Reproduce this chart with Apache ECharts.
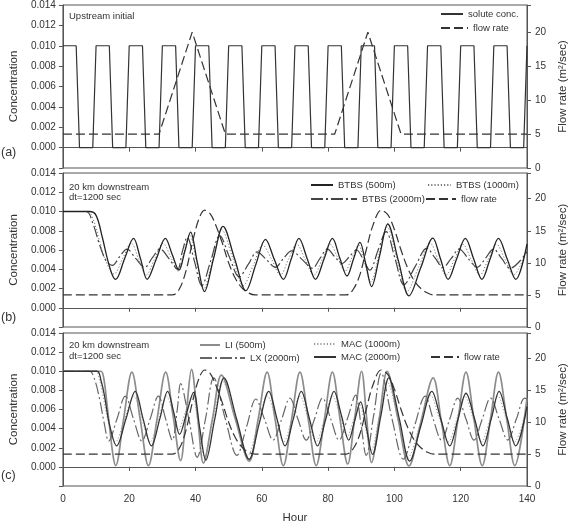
<!DOCTYPE html>
<html>
<head>
<meta charset="utf-8">
<script src="https://cdn.jsdelivr.net/npm/echarts@6/dist/echarts.min.js"></script>
<style>
  html, body { margin: 0; padding: 0; background: #fff; }
  #chart { width: 577px; height: 525px; }
</style>
</head>
<body>
<div id="chart"></div>
<script>
// ---- data: [hour, value] ----
const hourTicks = [0, 20, 40, 60, 80, 100, 120, 140];

// (a) upstream boundary
const upstreamConc = [
  [0, 0.010], [4, 0.010], [5, 0], [9, 0], [10, 0.010], [14, 0.010], [15, 0], [19, 0],
  [20, 0.010], [24, 0.010], [25, 0], [29, 0], [30, 0.010], [34, 0.010], [35, 0], [39, 0],
  [40, 0.010], [44, 0.010], [45, 0], [49, 0], [50, 0.010], [54, 0.010], [55, 0], [59, 0],
  [60, 0.010], [64, 0.010], [65, 0], [69, 0], [70, 0.010], [74, 0.010], [75, 0], [79, 0],
  [80, 0.010], [84, 0.010], [85, 0], [89, 0], [90, 0.010], [94, 0.010], [95, 0], [99, 0],
  [100, 0.010], [104, 0.010], [105, 0], [109, 0], [110, 0.010], [114, 0.010], [115, 0], [119, 0],
  [120, 0.010], [124, 0.010], [125, 0], [129, 0], [130, 0.010], [134, 0.010], [135, 0], [139, 0],
  [140, 0.010]
];
const upstreamFlow = [[0, 5], [29, 5], [39, 20], [49, 5], [82, 5], [92, 20], [102, 5], [140, 5]];

// flow rate 20 km downstream (b, c)
const downFlow = [
  [0, 5], [33, 5], [35, 5.8], [37, 8.5], [39, 13], [41, 16.8], [42.8, 18.2], [44.5, 17.6],
  [46, 16], [48, 13.2], [50, 10], [52, 7.6], [54, 6.1], [56, 5.3], [58, 5], [85.5, 5],
  [87.5, 5.8], [89.5, 8], [91.5, 12], [93.5, 15.8], [96, 18.2], [98, 17.5], [100, 15.2],
  [102, 12], [104, 9.2], [106, 7.2], [108, 6], [110, 5.3], [112, 5], [140, 5]
];

// (b) BTBS
const btbs500 = [
  [0, 0.010], [8, 0.010], [10, 0.0096], [11.9, 0.0073], [13.4, 0.0051], [14.9, 0.0034], [15.9, 0.00295],
  [18.6, 0.0051], [21.3, 0.0072], [23.4, 0.0051], [25.4, 0.00295], [28.2, 0.0051], [30.9, 0.0072],
  [33, 0.0055], [35, 0.0039], [36.8, 0.0059], [38.5, 0.00786], [40.6, 0.0046], [42.7, 0.00168],
  [45.5, 0.0052], [48.3, 0.00845], [51.8, 0.0051], [55.2, 0.00178], [58.2, 0.0045], [61.1, 0.0071],
  [63.8, 0.0050], [66.5, 0.00295], [68.9, 0.0051], [71.2, 0.0072], [73.7, 0.0051], [76.2, 0.00295],
  [78.8, 0.0051], [81.3, 0.0072], [83.5, 0.0052], [85.7, 0.0033], [87.7, 0.0051], [89.6, 0.0068],
  [91.4, 0.0045], [93.1, 0.0022], [95.6, 0.0055], [98, 0.0087], [101.2, 0.0049], [104.4, 0.00124],
  [108, 0.0042], [111.6, 0.00724], [113.9, 0.0051], [116.2, 0.00295], [118.8, 0.0051], [121.4, 0.0072],
  [123.9, 0.0051], [126.4, 0.00295], [128.9, 0.0051], [131.4, 0.0072], [134, 0.0051], [136.6, 0.00295],
  [140, 0.0066]
];
const btbs1000 = [
  [0, 0.010], [7.5, 0.010], [9, 0.0093], [11, 0.0070], [13, 0.0048], [15.4, 0.0035],
  [18, 0.0051], [20.6, 0.0067], [22.9, 0.0050], [25.1, 0.0034], [27.7, 0.0051], [30.2, 0.0067],
  [32.5, 0.0053], [34.8, 0.0038], [36.5, 0.0057], [38.2, 0.0076], [40.3, 0.0048], [42.4, 0.0019],
  [45.2, 0.0050], [47.9, 0.0081], [51.2, 0.0052], [54.4, 0.0023], [57.4, 0.0044], [60.3, 0.0065],
  [63, 0.0050], [65.6, 0.0034], [68, 0.0050], [70.5, 0.0066], [73.1, 0.0050], [75.7, 0.0034],
  [78.2, 0.0050], [80.6, 0.0066], [82.9, 0.0052], [85.1, 0.0038], [87.2, 0.0052], [89.2, 0.0065],
  [91, 0.0046], [92.9, 0.0027], [95.4, 0.0056], [97.8, 0.0084], [100.8, 0.0050], [103.8, 0.0017],
  [107.3, 0.0042], [110.8, 0.0067], [113.2, 0.0050], [115.6, 0.0034], [118.1, 0.0050], [120.6, 0.0066],
  [123.2, 0.0050], [125.8, 0.0034], [128.3, 0.0050], [130.8, 0.0066], [133.4, 0.0050], [135.9, 0.0034],
  [140, 0.0062]
];
const btbs2000 = [
  [0, 0.010], [7, 0.010], [9, 0.0088], [11, 0.0066], [13, 0.0049], [14.9, 0.0044], [17.1, 0.0053],
  [19.3, 0.0061], [22, 0.0051], [24.7, 0.0042], [27, 0.0052], [29.3, 0.0061], [32, 0.0051],
  [34.6, 0.0040], [36, 0.0058], [37.5, 0.0073], [39.7, 0.0048], [41.9, 0.0023], [44.6, 0.0049],
  [47.3, 0.0075], [50.2, 0.0053], [53.2, 0.0032], [55.9, 0.0045], [58.6, 0.0058], [61.4, 0.0050],
  [64.1, 0.0042], [66.5, 0.0051], [69, 0.0059], [72.2, 0.0050], [75.3, 0.0041], [77.5, 0.0051],
  [79.8, 0.0061], [82, 0.0053], [84.2, 0.0046], [86.4, 0.0053], [88.6, 0.0060], [90.6, 0.0050],
  [92.6, 0.0039], [95, 0.0059], [97.5, 0.0079], [100.2, 0.0051], [102.9, 0.0024], [106.3, 0.0043],
  [109.8, 0.0062], [112.2, 0.0052], [114.7, 0.0042], [117.1, 0.0051], [119.6, 0.0061], [122.3, 0.0051],
  [125, 0.0042], [127.4, 0.0051], [129.9, 0.0061], [132.4, 0.0051], [134.9, 0.0041], [140, 0.0058]
];

// (c) LI / LX / MAC
const li500 = [
  [0, 0.010], [11.4, 0.010], [12.3, 0.0093], [13.3, 0.0065], [14.3, 0.0035], [15.2, 0.0010], [15.9, 0.00013],
  [18.3, 0.0050], [20.8, 0.0099], [23.3, 0.0050], [25.8, 0.00013], [28.4, 0.0050], [31, 0.0099],
  [33.3, 0.0052], [35.5, 0.00065], [37.2, 0.0055], [38.8, 0.0102], [40.6, 0.0053], [42.4, 0.0004],
  [45.1, 0.0050], [47.8, 0.0096], [52, 0.0050], [56.2, 0.0006], [58.9, 0.0050], [61.6, 0.0099],
  [64, 0.0050], [66.5, 0.00013], [69, 0.0050], [71.5, 0.0099], [74, 0.0050], [76.4, 0.00013],
  [78.9, 0.0050], [81.3, 0.0099], [83.6, 0.0050], [85.9, 0.0003], [88, 0.0050], [90.1, 0.0100],
  [91.6, 0.0052], [93.1, 0.00045], [95.5, 0.0052], [97.8, 0.0100], [101.1, 0.0050], [104.4, 0.0001],
  [108, 0.0047], [111.7, 0.0093], [114.2, 0.0047], [116.7, 0.00013], [119.2, 0.0050], [121.6, 0.0099],
  [124, 0.0050], [126.5, 0.00013], [129, 0.0050], [131.4, 0.0099], [133.9, 0.0050], [136.3, 0.00013],
  [140, 0.0072]
];
const lx2000 = [
  [0, 0.010], [8, 0.010], [9.5, 0.0092], [11, 0.0072], [12.5, 0.0045], [13.8, 0.0027], [16.3, 0.0050],
  [18.8, 0.0074], [21.3, 0.0050], [23.8, 0.0027], [26.3, 0.0050], [28.8, 0.0074], [31, 0.0050],
  [33, 0.0028], [34.5, 0.0060], [35.5, 0.0087], [38, 0.0050], [40.5, 0.0010], [43, 0.0050],
  [45.5, 0.0093], [49, 0.0050], [52.5, 0.0012], [55.4, 0.0042], [58.2, 0.0071], [60.8, 0.0050],
  [63.4, 0.0028], [66, 0.0050], [68.5, 0.0072], [70.9, 0.0050], [73.4, 0.0028], [75.9, 0.0050],
  [78.3, 0.0072], [80.8, 0.0050], [83.3, 0.0028], [85.8, 0.0050], [88.3, 0.0075], [89.9, 0.0045],
  [91.5, 0.0012], [93.8, 0.0055], [96, 0.0098], [99.3, 0.0050], [102.7, 0.0008], [106, 0.0042],
  [109.3, 0.0074], [111.7, 0.0050], [114.2, 0.0028], [116.7, 0.0050], [119.1, 0.0072], [121.6, 0.0050],
  [124, 0.0028], [126.5, 0.0050], [129, 0.0072], [131.6, 0.0050], [134.2, 0.0028], [136.8, 0.0050],
  [139.3, 0.0072], [140, 0.0071]
];
const mac1000 = [
  [0, 0.010], [9.8, 0.010], [11, 0.0091], [12, 0.0076], [13.6, 0.0048], [15.8, 0.0026], [18.6, 0.0050],
  [21.4, 0.0074], [23.8, 0.0050], [26.3, 0.0026], [28.8, 0.0050], [31.2, 0.0074], [33.1, 0.0057],
  [34.8, 0.0038], [36.9, 0.0057], [39, 0.0074], [40.9, 0.0043], [42.7, 0.0011], [45.4, 0.0050],
  [48.2, 0.0089], [52, 0.0051], [55.8, 0.0012], [58.8, 0.0045], [61.7, 0.0074], [64.2, 0.0050],
  [66.6, 0.0026], [69.1, 0.0050], [71.5, 0.0074], [74, 0.0050], [76.4, 0.0026], [78.9, 0.0050],
  [81.4, 0.0074], [83.6, 0.0054], [85.8, 0.0032], [87.6, 0.0049], [89.4, 0.0066], [91.2, 0.0042],
  [93, 0.0017], [95.5, 0.0054], [97.9, 0.0088], [101.1, 0.0050], [104.2, 0.0010], [107.6, 0.0043],
  [110.9, 0.0075], [113.6, 0.0050], [116.3, 0.0026], [118.8, 0.0050], [121.2, 0.0074], [123.8, 0.0050],
  [126.3, 0.0026], [128.8, 0.0050], [131.2, 0.0074], [133.7, 0.0050], [136.2, 0.0026], [140, 0.0064]
];
const mac2000 = [
  [0, 0.010], [10.3, 0.010], [11.5, 0.0090], [12.5, 0.0075], [14, 0.0045], [16.2, 0.0022], [19, 0.0050],
  [21.8, 0.0079], [24.2, 0.0050], [26.7, 0.0022], [29.2, 0.0050], [31.6, 0.0079], [33.5, 0.0056],
  [35.2, 0.0034], [37.3, 0.0056], [39.4, 0.0078], [41.3, 0.0040], [43.1, 0.0007], [45.8, 0.0050],
  [48.6, 0.0093], [52.4, 0.0050], [56.2, 0.0008], [59.2, 0.0045], [62.1, 0.0079], [64.6, 0.0050],
  [67, 0.0022], [69.5, 0.0050], [71.9, 0.0079], [74.4, 0.0050], [76.8, 0.0022], [79.3, 0.0050],
  [81.8, 0.0079], [84, 0.0054], [86.2, 0.0028], [88, 0.0048], [89.8, 0.0068], [91.6, 0.0040],
  [93.4, 0.0013], [95.9, 0.0053], [98.3, 0.0093], [101.5, 0.0050], [104.6, 0.0006], [108, 0.0043],
  [111.3, 0.0079], [114, 0.0050], [116.7, 0.0022], [119.2, 0.0050], [121.6, 0.0077], [124.2, 0.0050],
  [126.7, 0.0022], [129.2, 0.0050], [131.6, 0.0079], [134.1, 0.0050], [136.6, 0.0022], [140, 0.0063]
];

// ---- layout / style ----
const FONT = 'Liberation Sans, Arial, sans-serif';
const AXIS = '#555';
const INK = '#333';
const grids = [
  { top: 2, height: 166 },
  { top: 173, height: 154 },
  { top: 333, height: 154 }
];

const chart = echarts.init(document.getElementById('chart'), null, { renderer: 'canvas' });

function xAxisFor(i) {
  return {
    type: 'value', gridIndex: i, min: hourTicks[0], max: hourTicks[hourTicks.length - 1], interval: 20,
    axisLine: { show: true, lineStyle: { color: AXIS, width: 1 } },
    axisTick: { show: true, length: 4, lineStyle: { color: AXIS } },
    axisLabel: { show: i === 2, margin: 8, fontSize: 10, color: INK, fontFamily: FONT },
    splitLine: { show: false },
    name: i === 2 ? 'Hour' : '', nameLocation: 'middle', nameGap: 26,
    nameTextStyle: { fontSize: 11.5, color: INK, fontFamily: FONT }
  };
}
function concAxis(i) {
  return {
    type: 'value', gridIndex: i, position: 'left', min: -0.002, max: 0.014, interval: 0.002,
    axisLine: { show: true, lineStyle: { color: AXIS } },
    axisTick: { show: true, length: 4, lineStyle: { color: AXIS } },
    axisLabel: {
      margin: 7, fontSize: 10, color: INK, fontFamily: FONT,
      formatter: v => (v < -0.0005 ? '' : v.toFixed(3))
    },
    splitLine: { show: false },
    name: 'Concentration', nameLocation: 'middle', nameRotate: 90, nameGap: 37,
    nameTextStyle: { fontSize: 11.5, color: INK, fontFamily: FONT }
  };
}
function flowAxis(i) {
  return {
    type: 'value', gridIndex: i, position: 'right', min: 0, max: 24, interval: 5,
    axisLine: { show: true, lineStyle: { color: AXIS } },
    axisTick: { show: true, length: 4, lineStyle: { color: AXIS } },
    axisLabel: {
      margin: 8, fontSize: 10, color: INK, fontFamily: FONT,
      formatter: v => (v > 22 ? '' : String(v))
    },
    splitLine: { show: false },
    name: 'Flow rate (m\u00b2/sec)', nameLocation: 'middle', nameRotate: 90, nameGap: 28,
    nameTextStyle: { fontSize: 11.5, color: INK, fontFamily: FONT }
  };
}

function line(name, data, xi, yi, color, width, type, smooth) {
  return {
    name: name, type: 'line', data: data, xAxisIndex: xi, yAxisIndex: yi,
    symbol: 'none', smooth: smooth ? 0.35 : false, silent: true,
    lineStyle: { color: color, width: width, type: type },
    itemStyle: { color: color }
  };
}

const FLOW_DASH = [9, 4];
const DASH_DOT = [12, 3, 2, 3];
const DOT = [1.2, 2];

// one legend per entry so each sits where the original puts it
function legendItem(name, left, cy, iconW) {
  return {
    data: [name], left: left, top: cy - 6, padding: 0,
    itemWidth: iconW, itemHeight: 12, selectedMode: false,
    itemStyle: { opacity: 0 },
    textStyle: { fontSize: 9.5, color: INK, fontFamily: FONT }
  };
}

function note(text, left, cy, size) {
  return {
    type: 'text', left: left, top: cy - size * 0.6,
    style: { text: text, fontSize: size, fill: INK, fontFamily: FONT }
  };
}

const option = {
  animation: false,
  backgroundColor: '#fff',
  grid: grids.map(g => ({
    left: 54, right: 48, top: g.top, height: g.height,
    show: true, borderColor: AXIS, borderWidth: 1
  })),
  xAxis: [xAxisFor(0), xAxisFor(1), xAxisFor(2)],
  yAxis: [concAxis(0), flowAxis(0), concAxis(1), flowAxis(1), concAxis(2), flowAxis(2)],
  legend: [
    legendItem('solute conc.', 440, 15, 22),
    legendItem('flow rate', 440, 29, 27),
    legendItem('BTBS (500m)', 310, 186, 22),
    legendItem('BTBS (1000m)', 427, 186, 23),
    legendItem('BTBS (2000m)', 310, 200, 46),
    legendItem('flow rate', 425, 200, 30),
    legendItem('LI (500m)', 199, 346, 20),
    legendItem('LX (2000m)', 199, 359, 45),
    legendItem('MAC (1000m)', 313, 345, 22),
    legendItem('MAC (2000m)', 313, 358, 22),
    legendItem('flow rate', 430, 358, 28)
  ],
  graphic: [
    note('Upstream initial', 69, 17, 9.5),
    note('20 km downstream', 69, 188, 9.5),
    note('dt=1200 sec', 69, 198.5, 9.5),
    note('20 km downstream', 69, 346.5, 9.5),
    note('dt=1200 sec', 69, 357, 9.5),
    note('(a)', 1, 154, 12.5),
    note('(b)', 1, 319, 12.5),
    note('(c)', 1, 477, 12.5)
  ],
  series: [
    line('solute conc.', upstreamConc, 0, 0, INK, 1.2, 'solid', false),
    line('flow rate', upstreamFlow, 0, 1, INK, 1.2, FLOW_DASH, false),

    line('BTBS (1000m)', btbs1000, 1, 2, '#777', 1, DOT, true),
    line('BTBS (2000m)', btbs2000, 1, 2, '#444', 1.2, DASH_DOT, true),
    line('BTBS (500m)', btbs500, 1, 2, '#222', 1.3, 'solid', true),
    line('flow rate', downFlow, 1, 3, INK, 1.2, FLOW_DASH, true),

    line('LI (500m)', li500, 2, 4, '#8c8c8c', 1.7, 'solid', true),
    line('LX (2000m)', lx2000, 2, 4, '#666', 1.2, DASH_DOT, true),
    line('MAC (1000m)', mac1000, 2, 4, '#999', 1, DOT, true),
    line('MAC (2000m)', mac2000, 2, 4, '#333', 1.3, 'solid', true),
    line('flow rate', downFlow, 2, 5, INK, 1.2, FLOW_DASH, true)
  ]
};

chart.setOption(option);
</script>
</body>
</html>
